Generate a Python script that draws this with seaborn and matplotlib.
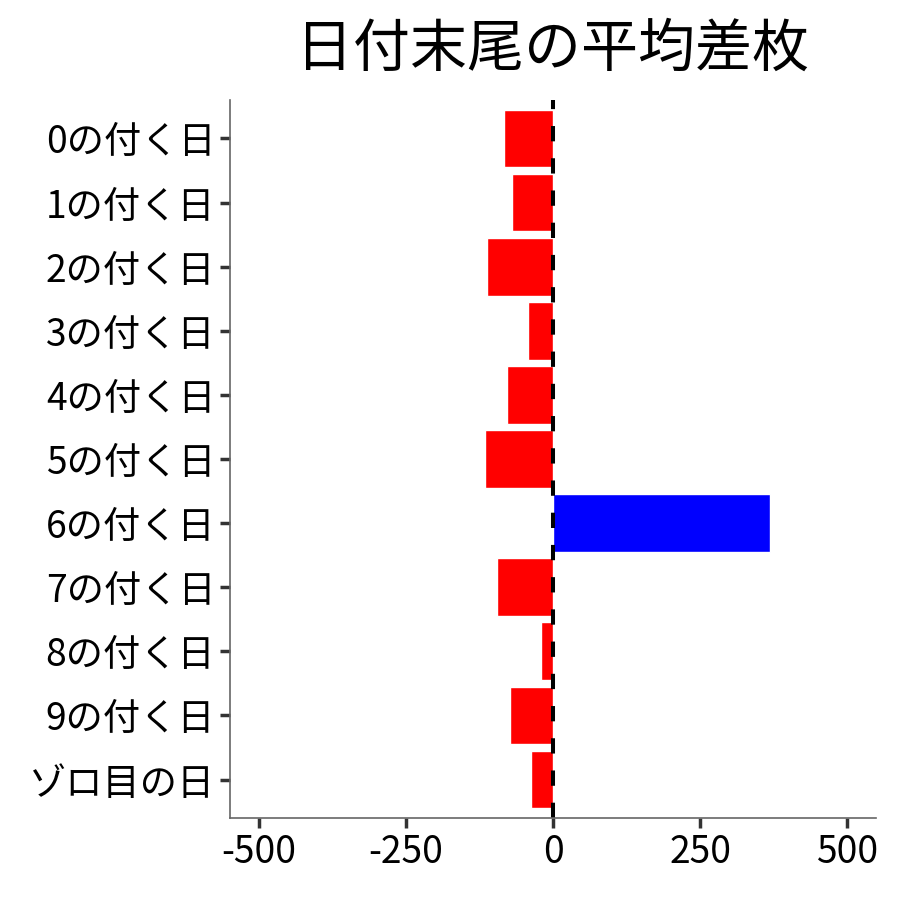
import matplotlib
matplotlib.use('Agg')
import matplotlib.pyplot as plt
import seaborn as sns
import pandas as pd

# Data
days = ['0の付く日', '1の付く日', '2の付く日', '3の付く日', '4の付く日', '5の付く日',
        '6の付く日', '7の付く日', '8の付く日', '9の付く日', 'ゾロ目の日']
avg_diff = [-84, -70, -112, -43, -78, -116, 369, -95, -20, -73, -37]
xticks = [-500, -250, 0, 250, 500]

df = pd.DataFrame({'day': days, 'diff': avg_diff})
df['sign'] = ['plus' if v > 0 else 'minus' for v in df['diff']]

sns.set_theme(style='white')
plt.rcParams['font.family'] = ['Noto Sans CJK JP', 'DejaVu Sans']

fig = plt.figure(figsize=(9, 9), dpi=100)
ax = fig.add_axes([0.2556, 0.0911, 0.7177, 0.7978])

sns.barplot(data=df, x='diff', y='day', hue='sign', order=days,
            palette={'plus': '#0000ff', 'minus': '#ff0000'},
            width=0.9, saturation=1, dodge=False, legend=False, ax=ax)

ax.axvline(0, color='black', linestyle=(0, (3.8, 4.2)), linewidth=2.9)

ax.set_xlim(-549, 549)
ax.set_ylim(10.6, -0.6)
ax.set_xticks(xticks)
ax.set_xticklabels([str(t) for t in xticks])
ax.set_xlabel('')
ax.set_ylabel('')
ax.tick_params(axis='both', labelsize=26.8, colors='#333333', labelcolor='black',
               length=7.5, width=2.5, direction='out', left=True, bottom=True, pad=3)
for side in ['top', 'right']:
    ax.spines[side].set_visible(False)
for side in ['left', 'bottom']:
    ax.spines[side].set_color('#666666')
    ax.spines[side].set_linewidth(1.2)

fig.suptitle('日付末尾の平均差枚', fontsize=41, color='black', x=0.614, y=0.978, va='top')

fig.savefig('out.png', dpi=100)
